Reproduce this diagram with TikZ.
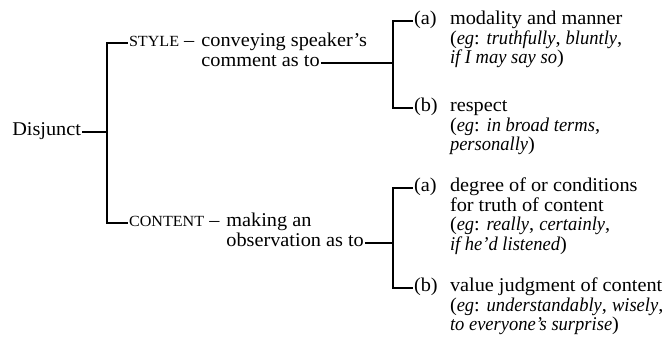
\documentclass[tikz,border=0pt]{standalone}
\usepackage{fontspec}
\setmainfont{Liberation Serif}[UprightFeatures={FakeStretch=1.04}, ItalicFeatures={FakeStretch=0.95}]
\usetikzlibrary{calc}
\begin{document}
\begin{tikzpicture}[x=1pt,y=-1pt,
  txt/.style={inner sep=0pt, outer sep=2pt, text height=12pt, text depth=4pt, anchor=base west, font=\fontsize{19.5}{20}\selectfont},
  txtr/.style={txt, anchor=base east},
  conn/.style={line width=1.3pt, line cap=rect}]
\useasboundingbox (0,0) rectangle (665,347);
\newcommand{\smc}[1]{{\fontsize{15.5}{16}\selectfont #1}}
\coordinate (sp1) at (107,0);
\coordinate (sp2) at (393,0);
% root
\node[txtr] (disj) at (83,136) {Disjunct};
% style branch
\node[txt] (sty) at (127,47) {\smc{STYLE} –};
\node[txt] (styA) at ($(sty.base east)+(3,0)$) {conveying speaker's};
\node[txt] (styB) at ($(styA.base west)+(0,20)$) {comment as to};
% content branch
\node[txt] (con) at (127,227) {\smc{CONTENT} –};
\node[txt] (conA) at ($(con.base east)+(3,0)$) {making an};
\node[txt] (conB) at ($(conA.base west)+(0,20)$) {observation as to};
% style items
\node[txt] (sa) at (412,25) {(a)};
\node[txt] (sa1) at (448,25) {modality and manner};
\node[txt] (sa2) at (448,44.5) {(\textit{eg}: \textit{truthfully}, \textit{bluntly},};
\node[txt] (sa3) at (448,64) {\textit{if I may say so})};
\node[txt] (sb) at (412,112) {(b)};
\node[txt] (sb1) at (448,112) {respect};
\node[txt] (sb2) at (448,131.5) {(\textit{eg}: \textit{in broad terms},};
\node[txt] (sb3) at (448,151) {\textit{personally})};
% content items
\node[txt] (ca) at (412,192) {(a)};
\node[txt] (ca1) at (448,192) {degree of or conditions};
\node[txt] (ca2) at (448,211.5) {for truth of content};
\node[txt] (ca3) at (448,231) {(\textit{eg}: \textit{really}, \textit{certainly},};
\node[txt] (ca4) at (448,250.5) {\textit{if he'd listened})};
\node[txt] (cb) at (412,292) {(b)};
\node[txt] (cb1) at (448,292) {value judgment of content};
\node[txt] (cb2) at (448,311.5) {(\textit{eg}: \textit{understandably}, \textit{wisely},};
\node[txt] (cb3) at (448,331) {\textit{to everyone's surprise})};
% connectors
\draw[conn] (disj.east) -- (disj.east -| sp1);
\draw[conn] (sty.west) -- (sty.west -| sp1) -- (con.west -| sp1) -- (con.west);
\draw[conn] (styB.east) -- (styB.east -| sp2);
\draw[conn] (sa.west) -- (sa.west -| sp2) -- (sb.west -| sp2) -- (sb.west);
\draw[conn] (conB.east) -- (conB.east -| sp2);
\draw[conn] (ca.west) -- (ca.west -| sp2) -- (cb.west -| sp2) -- (cb.west);
\end{tikzpicture}
\end{document}
